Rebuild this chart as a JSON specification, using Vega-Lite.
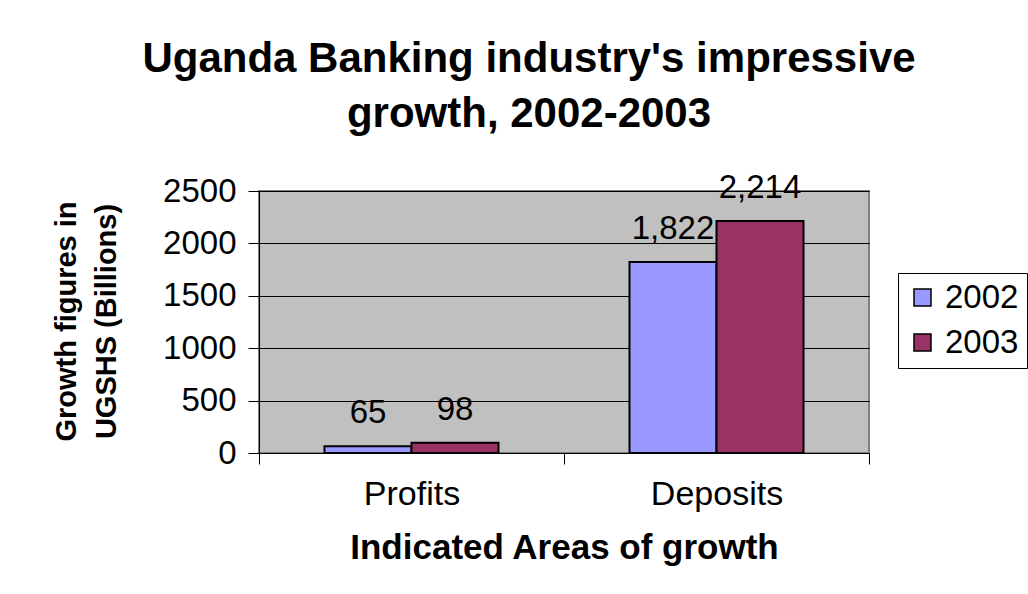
{
  "$schema": "https://vega.github.io/schema/vega-lite/v6.json",
  "width": 610,
  "height": 262,
  "autosize": "none",
  "padding": {"left": 259, "top": 191, "right": 159, "bottom": 141},
  "background": "white",
  "config": {
    "font": "Liberation Sans",
    "lineBreak": "\n",
    "view": {"fill": "#C0C0C0", "stroke": "#808080", "strokeWidth": 2}
  },
  "title": {
    "text": "Uganda Banking industry's impressive\ngrowth, 2002-2003",
    "fontSize": 42,
    "fontWeight": "bold",
    "color": "black",
    "anchor": "middle",
    "dx": -35,
    "offset": 36,
    "lineHeight": 55
  },
  "data": {
    "values": [
      {"Area": "Profits", "Year": "2002", "Value": 65},
      {"Area": "Profits", "Year": "2003", "Value": 98},
      {"Area": "Deposits", "Year": "2002", "Value": 1822},
      {"Area": "Deposits", "Year": "2003", "Value": 2214}
    ]
  },
  "encoding": {
    "x": {
      "field": "Area",
      "type": "nominal",
      "sort": ["Profits", "Deposits"],
      "scale": {"paddingInner": 0, "paddingOuter": 0},
      "axis": {
        "title": "Indicated Areas of growth",
        "titleFontSize": 35,
        "titleFontWeight": "bold",
        "titleColor": "black",
        "titlePadding": 19,
        "labelAngle": 0,
        "labelFontSize": 34,
        "labelColor": "black",
        "labelPadding": 13,
        "tickBand": "extent",
        "tickSize": 11,
        "tickColor": "black",
        "domainColor": "black",
        "domainWidth": 1,
        "grid": false
      }
    },
    "xOffset": {
      "field": "Year",
      "type": "nominal",
      "scale": {"paddingInner": 0, "paddingOuter": 0.753}
    },
    "y": {
      "field": "Value",
      "type": "quantitative",
      "scale": {"domain": [0, 2500], "nice": false},
      "axis": {
        "title": "Growth figures in\nUGSHS (Billions)",
        "titleFontSize": 29,
        "titleFontWeight": "bold",
        "titleColor": "black",
        "titleAngle": -90,
        "titleAlign": "center",
        "titleBaseline": "middle",
        "titleLineHeight": 40,
        "titleX": -193,
        "titleY": 130,
        "values": [0, 500, 1000, 1500, 2000, 2500],
        "format": "d",
        "labelFontSize": 33,
        "labelColor": "black",
        "labelPadding": 12,
        "tickSize": 11,
        "tickColor": "black",
        "domainColor": "black",
        "domainWidth": 1,
        "grid": true,
        "gridColor": "black",
        "gridWidth": 1
      }
    }
  },
  "layer": [
    {
      "mark": {"type": "bar", "stroke": "black", "strokeWidth": 2},
      "encoding": {
        "color": {
          "field": "Year",
          "type": "nominal",
          "scale": {"domain": ["2002", "2003"], "range": ["#9999FF", "#993366"]},
          "legend": {
            "title": null,
            "orient": "none",
            "legendX": 639,
            "legendY": 82,
            "strokeColor": "black",
            "fillColor": "white",
            "padding": 8,
            "symbolOffset": 0,
            "symbolType": "square",
            "symbolSize": 289,
            "symbolStrokeColor": "black",
            "symbolStrokeWidth": 1.5,
            "symbolOpacity": 1,
            "labelFontSize": 33,
            "labelColor": "black",
            "labelOffset": 6,
            "rowPadding": 11
          }
        }
      }
    },
    {
      "mark": {"type": "text", "fontSize": 33, "color": "black", "baseline": "alphabetic", "dy": -23},
      "encoding": {
        "text": {"field": "Value", "type": "quantitative", "format": ",d"}
      }
    }
  ]
}
